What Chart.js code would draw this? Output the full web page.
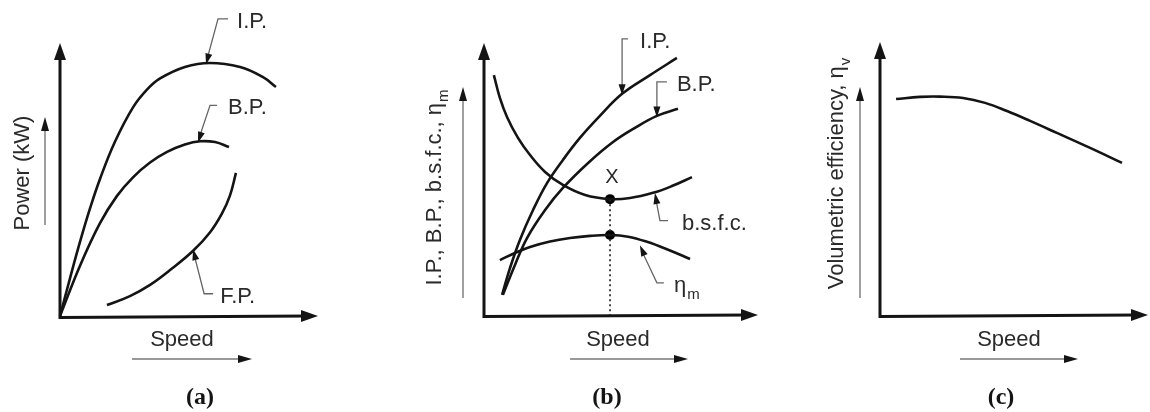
<!DOCTYPE html>
<html>
<head>
<meta charset="utf-8">
<script src="https://cdn.jsdelivr.net/npm/chart.js@4.4.1/dist/chart.umd.min.js"></script>
<style>
  body { margin: 0; background: #fff; }
  #wrap { position: relative; width: 1150px; height: 412px; }
  canvas { position: absolute; top: 0; }
</style>
</head>
<body>
<div id="wrap">
  <canvas id="chartA" width="380" height="412" style="left:0px"></canvas>
  <canvas id="chartB" width="410" height="412" style="left:380px"></canvas>
  <canvas id="chartC" width="360" height="412" style="left:790px"></canvas>
</div>
<script>
// (a) power vs speed, arbitrary units 0..100
const ipSpeedA = [0, 3.9, 7.8, 11.6, 15.5, 21.3, 28.3, 33.7, 38.8, 48.4, 58.1, 69.8, 78.7, 83.7];
const ipPowerA = [0, 13.9, 27.3, 39.3, 50.2, 63.8, 76.4, 82.9, 87.0, 91.2, 92.7, 91.2, 87.5, 83.9];
const bpSpeedA = [0, 7.8, 15.5, 22.1, 28.3, 34.9, 41.5, 48.4, 54.3, 60.1, 65.5];
const bpPowerA = [0, 18.5, 34.0, 44.0, 50.8, 56.2, 60.1, 62.8, 64.0, 63.7, 61.9];
const fpSpeedA = [18.2, 27.1, 34.9, 43.4, 51.6, 58.1, 62.8, 65.9, 68.2];
const fpPowerA = [4.0, 7.3, 11.4, 17.4, 23.9, 30.6, 37.6, 44.2, 52.4];

// (b) I.P., B.P., b.s.f.c., eta_m vs speed
const ipSpeedB = [6.6, 9.5, 13.1, 17.9, 23.0, 28.8, 35.0, 42.3, 50.4, 60.6, 70.4];
const ipValB = [7.4, 17.3, 27.6, 38.6, 48.5, 57.0, 65.1, 73.2, 81.3, 88.2, 94.5];
const bpSpeedB = [6.9, 11.3, 15.7, 22.3, 28.8, 38.0, 47.1, 55.1, 63.1, 70.8];
const bpValB = [7.4, 18.4, 28.3, 38.6, 46.7, 55.9, 63.6, 68.8, 73.2, 75.8];
const bsfcSpeedB = [3.6, 5.8, 8.4, 12.4, 16.8, 22.3, 28.8, 36.9, 46.0, 53.3, 61.7, 68.6, 75.9];
const bsfcValB = [88.2, 79.8, 72.8, 65.1, 58.8, 52.6, 47.8, 44.1, 42.6, 43.0, 44.9, 47.4, 50.7];
const etaSpeedB = [5.8, 11.3, 16.8, 24.1, 31.4, 38.7, 46.0, 52.6, 59.5, 67.2, 75.2];
const etaValB = [20.2, 22.8, 25.0, 27.0, 28.3, 29.1, 29.4, 28.8, 26.9, 24.0, 20.6];
const optSpeed = 46.0;
const optBsfc = 42.6;
const optEta = 29.4;

// (c) volumetric efficiency vs speed
const volSpeedC = [6.0, 14.9, 22.4, 31.0, 39.2, 47.4, 56.0, 66.0, 78.4, 90.3];
const volEffC = [79.1, 79.9, 80.0, 79.5, 77.7, 74.7, 71.1, 66.7, 61.2, 55.7];

const INK = '#141414';
const SANS = '"Liberation Sans", Arial, sans-serif';
const SERIF = '"Liberation Serif", "Times New Roman", serif';

const pts = (xs, ys) => xs.map((x, i) => ({ x: x, y: ys[i] }));

const curve = (xs, ys) => ({
  data: pts(xs, ys),
  showLine: true,
  borderColor: INK,
  borderWidth: 2.6,
  pointRadius: 0,
  tension: 0.4,
  clip: false,
  fill: false
});

function head(ctx, x1, y1, x2, y2, len, half) {
  const a = Math.atan2(y2 - y1, x2 - x1);
  ctx.save();
  ctx.translate(x2, y2);
  ctx.rotate(a);
  ctx.beginPath();
  ctx.moveTo(0, 0);
  ctx.lineTo(-len, -half);
  ctx.lineTo(-len, half);
  ctx.closePath();
  ctx.fill();
  ctx.restore();
}

function textWithSub(ctx, x, y, main, sub, size, align) {
  ctx.font = size + 'px ' + SANS;
  const wm = ctx.measureText(main).width;
  ctx.font = Math.round(size * 0.7) + 'px ' + SANS;
  const ws = sub ? ctx.measureText(sub).width : 0;
  let start = x;
  if (align === 'center') start = x - (wm + ws) / 2;
  ctx.textAlign = 'left';
  ctx.textBaseline = 'middle';
  ctx.font = size + 'px ' + SANS;
  ctx.fillText(main, start, y);
  if (sub) {
    ctx.font = Math.round(size * 0.7) + 'px ' + SANS;
    ctx.fillText(sub, start + wm + 1, y + size * 0.4);
  }
}

function decor(cfg) {
  return {
    id: 'decor',
    afterDraw(chart) {
      const ctx = chart.ctx;
      const xs = chart.scales.x, ys = chart.scales.y;
      const a = chart.chartArea;
      const x0 = xs.getPixelForValue(0), y0 = ys.getPixelForValue(0);
      ctx.save();
      ctx.fillStyle = INK;
      ctx.strokeStyle = INK;
      ctx.lineCap = 'butt';

      // axes with arrowheads
      ctx.lineWidth = 3;
      ctx.beginPath();
      ctx.moveTo(x0, a.top + 10);
      ctx.lineTo(x0, y0 + 1.5);
      ctx.lineTo(a.right - 10, y0);
      ctx.stroke();
      head(ctx, x0, y0, x0, a.top, 17, 6);
      head(ctx, x0, y0, a.right, y0, 17, 6);

      // axis titles with their thin arrows
      ctx.fillStyle = '#2a2a2a';
      ctx.font = '22px ' + SANS;
      ctx.textAlign = 'center';
      ctx.textBaseline = 'middle';
      ctx.fillText('Speed', a.left + cfg.speedText, 340);
      ctx.strokeStyle = '#777';
      ctx.lineWidth = 1.4;
      ctx.beginPath();
      ctx.moveTo(a.left + cfg.speedArrow[0], 359);
      ctx.lineTo(a.left + cfg.speedArrow[1] - 8, 359);
      ctx.stroke();
      ctx.fillStyle = INK;
      head(ctx, a.left, 359, a.left + cfg.speedArrow[1], 359, 14, 4);

      ctx.save();
      ctx.fillStyle = '#2a2a2a';
      ctx.translate(a.left + cfg.yTitleX, cfg.yTitleY);
      ctx.rotate(-Math.PI / 2);
      textWithSub(ctx, 0, 0, cfg.yTitle[0], cfg.yTitle[1], 22, 'center');
      ctx.restore();
      ctx.beginPath();
      ctx.moveTo(a.left + cfg.yArrowX, cfg.yArrow[0]);
      ctx.lineTo(a.left + cfg.yArrowX, cfg.yArrow[1] + 8);
      ctx.stroke();
      head(ctx, a.left + cfg.yArrowX, 400, a.left + cfg.yArrowX, cfg.yArrow[1], 14, 4);

      // panel tag
      ctx.font = 'bold 24px ' + SERIF;
      ctx.textAlign = 'center';
      ctx.fillStyle = INK;
      ctx.fillText(cfg.tag, a.left + cfg.tagX, 398);

      // curve labels with leader arrows
      cfg.labels.forEach(l => {
        const tx = xs.getPixelForValue(l.at[0]);
        const ty = ys.getPixelForValue(l.at[1]) + (l.dy || 0);
        const ex = tx + l.elbow[0], ey = ty + l.elbow[1];
        const rx = ex + l.run;
        const dir = Math.sign(l.elbow[1]);
        ctx.strokeStyle = '#666';
        ctx.lineWidth = 1.3;
        ctx.beginPath();
        ctx.moveTo(rx, ey);
        ctx.lineTo(ex, ey);
        const d = Math.hypot(ex - tx, ey - ty);
        ctx.lineTo(tx + (ex - tx) * 9 / d, ty + (ey - ty) * 9 / d);
        ctx.stroke();
        ctx.fillStyle = INK;
        head(ctx, ex, ey, tx, ty - dir * 1.5, 11, 3.5);
        ctx.fillStyle = '#2a2a2a';
        textWithSub(ctx, rx + l.gap, ey + 3, l.text, l.sub, 22, 'left');
      });

      if (cfg.after) cfg.after(chart, ctx);
      ctx.restore();
    }
  };
}

function makeChart(id, datasets, pad, cfg) {
  return new Chart(document.getElementById(id), {
    type: 'scatter',
    data: { datasets: datasets },
    options: {
      responsive: false,
      animation: false,
      devicePixelRatio: 1,
      layout: { padding: pad },
      plugins: { legend: { display: false }, tooltip: { enabled: false } },
      scales: {
        x: { type: 'linear', min: 0, max: 100, display: false },
        y: { type: 'linear', min: 0, max: 100, display: false }
      }
    },
    plugins: [decor(cfg)]
  });
}

makeChart('chartA', [
  curve(ipSpeedA, ipPowerA),
  curve(bpSpeedA, bpPowerA),
  curve(fpSpeedA, fpPowerA)
], { left: 60, right: 62, top: 43, bottom: 96 }, {
  speedText: 122, speedArrow: [72, 192],
  yTitle: ['Power (kW)', ''], yTitleX: -37, yTitleY: 173,
  yArrowX: -15, yArrow: [225, 117],
  tag: '(a)', tagX: 140,
  labels: [
    { text: 'I.P.', at: [56.6, 92.7], elbow: [12, -44], run: 10, gap: 9 },
    { text: 'B.P.', at: [53.5, 64.0], elbow: [12, -36], run: 7, gap: 11 },
    { text: 'F.P.', at: [51.6, 23.9], elbow: [11, 43], run: 9, gap: 7 }
  ]
});

makeChart('chartB', [
  curve(ipSpeedB, ipValB),
  curve(bpSpeedB, bpValB),
  curve(bsfcSpeedB, bsfcValB),
  curve(etaSpeedB, etaValB),
  {
    data: [{ x: optSpeed, y: optBsfc }, { x: optSpeed, y: 0 }],
    showLine: true, borderColor: '#333', borderWidth: 1.8, borderDash: [2, 3],
    pointRadius: 0, tension: 0, clip: false
  },
  {
    data: [{ x: optSpeed, y: optBsfc }, { x: optSpeed, y: optEta }],
    showLine: false, pointStyle: 'circle', pointRadius: 5, pointBackgroundColor: '#000',
    pointBorderColor: '#000', pointBorderWidth: 0, clip: false
  }
], { left: 104, right: 32, top: 43, bottom: 97 }, {
  speedText: 134, speedArrow: [86, 204],
  yTitle: ['I.P., B.P., b.s.f.c., \u03b7', 'm'], yTitleX: -49, yTitleY: 188,
  yArrowX: -21, yArrow: [298, 87],
  tag: '(b)', tagX: 123,
  labels: [
    { text: 'I.P.', at: [50.4, 81.3], elbow: [0, -55], run: 6, gap: 12 },
    { text: 'B.P.', at: [63.1, 73.2], elbow: [0, -34], run: 10, gap: 10 },
    { text: 'b.s.f.c.', at: [62.4, 45.0], elbow: [5, 26], run: 8, gap: 14, dy: 2 },
    { text: '\u03b7', sub: 'm', at: [56.9, 25.8], elbow: [17, 36], run: 7, gap: 10, dy: 2 }
  ],
  after(chart, ctx) {
    const px = chart.scales.x.getPixelForValue(optSpeed);
    const py = chart.scales.y.getPixelForValue(optBsfc);
    ctx.fillStyle = '#2a2a2a';
    ctx.font = '20px ' + SANS;
    ctx.textAlign = 'center';
    ctx.textBaseline = 'middle';
    ctx.fillText('X', px + 2, py - 22);
  }
});

makeChart('chartC', [
  curve(volSpeedC, volEffC)
], { left: 90, right: 2, top: 42, bottom: 97 }, {
  speedText: 129, speedArrow: [80, 198],
  yTitle: ['Volumetric efficiency, \u03b7', 'v'], yTitleX: -43, yTitleY: 174,
  yArrowX: -20, yArrow: [298, 87],
  tag: '(c)', tagX: 121,
  labels: []
});
</script>
</body>
</html>
